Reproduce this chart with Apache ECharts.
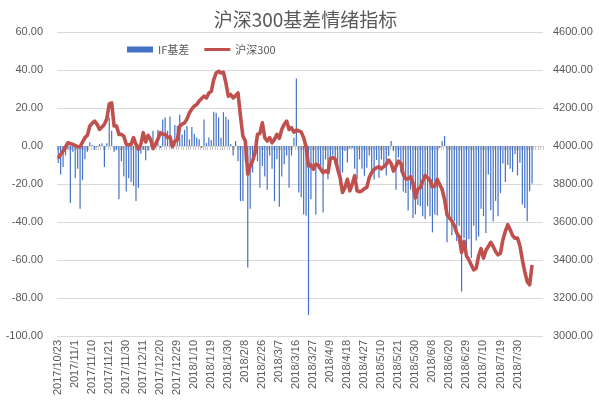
<!DOCTYPE html>
<html>
<head>
<meta charset="utf-8">
<script src="https://cdn.jsdelivr.net/npm/echarts@6/dist/echarts.min.js"></script>
<style>
html,body{margin:0;padding:0;background:#fff;}
#c{width:611px;height:402px;}
</style>
</head>
<body>
<div id="c"></div>
<script>
const dates = [
"2017/10/23","2017/10/24","2017/10/25","2017/10/26","2017/10/27","2017/10/30","2017/10/31",
"2017/11/1","2017/11/2","2017/11/3","2017/11/6","2017/11/7","2017/11/8","2017/11/9","2017/11/10","2017/11/13","2017/11/14","2017/11/15","2017/11/16","2017/11/17","2017/11/20","2017/11/21","2017/11/22","2017/11/23","2017/11/24","2017/11/27","2017/11/28","2017/11/29","2017/11/30",
"2017/12/1","2017/12/4","2017/12/5","2017/12/6","2017/12/7","2017/12/8","2017/12/11","2017/12/12","2017/12/13","2017/12/14","2017/12/15","2017/12/18","2017/12/19","2017/12/20","2017/12/21","2017/12/22","2017/12/25","2017/12/26","2017/12/27","2017/12/28","2017/12/29",
"2018/1/2","2018/1/3","2018/1/4","2018/1/5","2018/1/8","2018/1/9","2018/1/10","2018/1/11","2018/1/12","2018/1/15","2018/1/16","2018/1/17","2018/1/18","2018/1/19","2018/1/22","2018/1/23","2018/1/24","2018/1/25","2018/1/26","2018/1/29","2018/1/30","2018/1/31",
"2018/2/1","2018/2/2","2018/2/5","2018/2/6","2018/2/7","2018/2/8","2018/2/9","2018/2/12","2018/2/13","2018/2/14","2018/2/22","2018/2/23","2018/2/26","2018/2/27","2018/2/28",
"2018/3/1","2018/3/2","2018/3/5","2018/3/6","2018/3/7","2018/3/8","2018/3/9","2018/3/12","2018/3/13","2018/3/14","2018/3/15","2018/3/16","2018/3/19","2018/3/20","2018/3/21","2018/3/22","2018/3/23","2018/3/26","2018/3/27","2018/3/28","2018/3/29","2018/3/30",
"2018/4/2","2018/4/3","2018/4/4","2018/4/9","2018/4/10","2018/4/11","2018/4/12","2018/4/13","2018/4/16","2018/4/17","2018/4/18","2018/4/19","2018/4/20","2018/4/23","2018/4/24","2018/4/25","2018/4/26","2018/4/27",
"2018/5/2","2018/5/3","2018/5/4","2018/5/7","2018/5/8","2018/5/9","2018/5/10","2018/5/11","2018/5/14","2018/5/15","2018/5/16","2018/5/17","2018/5/18","2018/5/21","2018/5/22","2018/5/23","2018/5/24","2018/5/25","2018/5/28","2018/5/29","2018/5/30","2018/5/31",
"2018/6/1","2018/6/4","2018/6/5","2018/6/6","2018/6/7","2018/6/8","2018/6/11","2018/6/12","2018/6/13","2018/6/14","2018/6/15","2018/6/19","2018/6/20","2018/6/21","2018/6/22","2018/6/25","2018/6/26","2018/6/27","2018/6/28","2018/6/29",
"2018/7/2","2018/7/3","2018/7/4","2018/7/5","2018/7/6","2018/7/9","2018/7/10","2018/7/11","2018/7/12","2018/7/13","2018/7/16","2018/7/17","2018/7/18","2018/7/19","2018/7/20","2018/7/23","2018/7/24","2018/7/25","2018/7/26","2018/7/27","2018/7/30","2018/7/31",
"2018/8/1","2018/8/2","2018/8/3","2018/8/6","2018/8/7",
"","","",""
];

// IF基差 (left axis)
const basis = [
-9,-15,-11,-5,-2,-30,-3,-17,-12,-33,
-18,-7,-3,2,0.5,-2,-0.5,1,1.5,-11,
1.5,15,8,-3,-2,-28,-8,-16,-24,-17,
-19,-21,-29,-22,-4,-2,-7.5,-2.5,0.5,8,
-1,8.5,-1,14,15,8,15.5,-0.5,11,10.5,
16.5,6,8.5,10.5,3.5,10,6.5,4.5,3.5,-1,
14,1.5,4.5,3,18,17.5,15,4.4,17.8,15.4,
14,1,-5,2.6,-8,-29,-29,-8,-64,-33,
-14,-5,-8,-22,-10.5,-16,-23,-5,-12,-29,
-7,-32,-16,-9.6,-5,-22,-5,4.4,35.5,-24.5,
-27,-36,-36.7,-89,-28,-13,-36,-12,-10.5,-35,
-7,-17.5,-8.7,-5,-9.6,-10.5,-20.6,-14,-2.6,-8.7,
-1.4,-1,-12,-17.5,-7,-12,-15.7,-11.4,-5,-14.3,
-17.6,-7.4,-16.7,-7,-11.5,-15.5,-5.3,2.6,-2.6,-23,
-6,-14,-24,-24.7,-34,-23,-38,-36,-31,-31.7,
-37,-38.4,-31.7,-37,-45.5,-36,-36.6,-1,2.6,5.3,
-50.7,-38,-47,-39.6,-50,-42,-76.6,-48.5,-54.6,-49,
-59,-42,-49.7,-47.6,-33,-37,-45.8,-15,-33.8,-39.6,
-29,-37,-24.7,-9.2,-19,-10,-12,-13.7,-4.4,-15.5,
-8.8,-30.8,-32.6,-39.6,-23.8,-19.7,
null,null,null,null
];

// 沪深300 (right axis)
const hs300 = [
3935,3955,3974,3995,4017,4012,4009,4003,3996,3996,
4020,4044,4056,4105,4120,4131,4114,4087,4100,4114,
4143,4222,4227,4105,4105,4061,4061,4052,4009,4005,
4009,4044,4009,3983,4009,4070,4021,4056,4035,3986,
4009,4035,4070,4062,4061,4044,4049,3996,4026,4031,
4105,4115,4122,4143,4175,4195,4210,4218,4236,4250,
4262,4253,4279,4288,4349,4384,4393,4384,4388,4332,
4262,4271,4253,4265,4279,4157,4052,4026,3852,3895,
3921,3965,4061,4066,4122,4044,4026,4044,4017,4035,
4061,4040,4087,4114,4131,4087,4096,4073,4084,4079,
4073,4044,3996,3895,3900,3878,3904,3900,3878,3860,
3869,3860,3934,3939,3930,3878,3834,3755,3782,3825,
3764,3799,3843,3764,3759,3764,3776,3782,3834,3860,
3877,3886,3891,3880,3892,3903,3926,3908,3868,3894,
3921,3908,3850,3827,3827,3838,3806,3727,3774,3780,
3815,3845,3833,3820,3785,3789,3824,3797,3771,3718,
3639,3621,3604,3581,3542,3524,3440,3498,3422,3401,
3374,3348,3357,3422,3460,3410,3450,3471,3493,3471,
3445,3427,3436,3507,3551,3586,3559,3528,3515,3515,
3475,3401,3339,3286,3269,3374,
null,null,null,null
];

const leftTicks = {min: -100, max: 60, interval: 20};
const rightTicks = {min: 3000, max: 4600, interval: 200};

const txt = '#595959';
const font = '"Liberation Sans", "Noto Sans CJK SC", sans-serif';
const chart = echarts.init(document.getElementById('c'), null, {renderer: 'canvas'});
chart.setOption({
  animation: false,
  backgroundColor: '#fff',
  textStyle: {fontFamily: font},
  title: {
    text: '沪深300基差情绪指标',
    left: 'center',
    top: 5,
    textStyle: {fontSize: 19, fontWeight: 'normal', color: txt, fontFamily: '"Noto Sans CJK SC", sans-serif'}
  },
  legend: {
    left: 122,
    top: 39,
    itemWidth: 26,
    itemHeight: 6,
    itemGap: 15,
    textStyle: {fontSize: 11, color: txt, fontFamily: '"Noto Sans CJK SC", sans-serif'},
    data: [
      {name: 'IF基差', icon: 'rect'},
      {name: '沪深300', icon: 'path://M0,0H26V3H0Z'}
    ]
  },
  grid: {left: 57, right: 68, top: 32, bottom: 66, containLabel: false},
  xAxis: [
    {
      type: 'category',
      data: dates,
      position: 'bottom',
      boundaryGap: true,
      axisLine: {show: false, onZero: false},
      axisTick: {show: false},
      splitLine: {show: false},
      axisLabel: {rotate: 90, interval: 6, fontSize: 11, color: txt, margin: 4, fontFamily: font}
    },
    {
      type: 'category',
      data: dates,
      position: 'bottom',
      boundaryGap: true,
      axisLine: {show: true, onZero: true, onZeroAxisIndex: 0, lineStyle: {color: '#D9D9D9', width: 1}},
      axisTick: {show: true, interval: 0, length: 4, lineStyle: {color: '#C8C8C8'}},
      axisLabel: {show: false},
      splitLine: {show: false}
    }
  ],
  yAxis: [
    {
      type: 'value',
      position: 'left',
      min: leftTicks.min, max: leftTicks.max, interval: leftTicks.interval,
      axisLine: {show: false},
      axisTick: {show: false},
      splitLine: {show: true, lineStyle: {color: '#D9D9D9', width: 1}},
      axisLabel: {formatter: v => v.toFixed(2), fontSize: 11, color: txt, margin: 14, fontFamily: font}
    },
    {
      type: 'value',
      position: 'right',
      min: rightTicks.min, max: rightTicks.max, interval: rightTicks.interval,
      axisLine: {show: false},
      axisTick: {show: false},
      splitLine: {show: false},
      axisLabel: {formatter: v => v.toFixed(2), fontSize: 11, color: txt, margin: 10, fontFamily: font}
    }
  ],
  series: [
    {
      name: 'IF基差',
      type: 'bar',
      xAxisIndex: 0,
      yAxisIndex: 0,
      data: basis,
      barWidth: 1.2,
      itemStyle: {color: '#4472C4'}
    },
    {
      name: '沪深300',
      type: 'line',
      xAxisIndex: 0,
      yAxisIndex: 1,
      data: hs300,
      showSymbol: false,
      symbol: 'none',
      lineStyle: {color: '#C0504D', width: 3.6, join: 'round'},
      itemStyle: {color: '#C0504D'},
      z: 3
    }
  ]
});
</script>
</body>
</html>
